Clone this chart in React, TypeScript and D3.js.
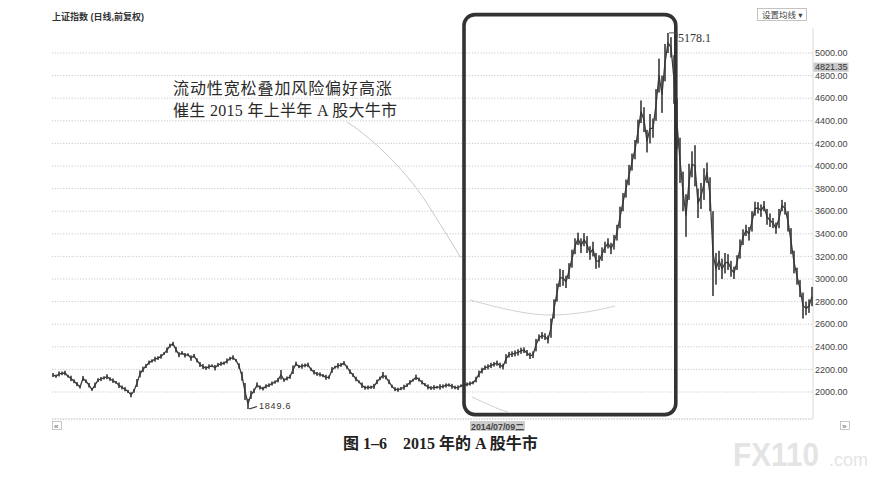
import React from 'react';
import * as d3 from 'd3';

// Daily-ish bars of the Shanghai Composite (2012-07 .. 2016-03)
const barLows = [
  2132, 2126, 2138, 2149, 2148, 2128, 2096, 2078, 2052, 2031,
  2098, 2079, 2040, 2010, 2036, 2088, 2097, 2111, 2113, 2099,
  2080, 2073, 2036, 2023, 2007, 1991, 1953, 1994, 2045, 2130,
  2176, 2213, 2242, 2261, 2268, 2284, 2295, 2328, 2346, 2393,
  2407, 2350, 2308, 2329, 2305, 2318, 2276, 2303, 2262, 2222,
  2203, 2196, 2205, 2220, 2191, 2223, 2232, 2241, 2253, 2279,
  2285, 2268, 2206, 2100, 1930, 1849.6, 1940, 1990, 2040, 2022,
  2014, 2032, 2044, 2057, 2074, 2085, 2110, 2090, 2103, 2117,
  2160, 2230, 2211, 2206, 2219, 2220, 2185, 2155, 2143, 2137,
  2131, 2108, 2114, 2170, 2208, 2208, 2223, 2237, 2206, 2160,
  2134, 2095, 2078, 2036, 2021, 2022, 2028, 2028, 2070, 2104,
  2120, 2112, 2070, 2036, 2008, 2002, 2016, 2020, 2044, 2065,
  2093, 2106, 2093, 2067, 2051, 2023, 2019, 2020, 2030, 2021,
  2033, 2040, 2048, 2028, 2024, 2018, 2043, 2038, 2051, 2057,
  2068, 2085, 2130, 2165, 2195, 2200, 2212, 2225, 2232, 2210,
  2200, 2250, 2305, 2310, 2315, 2322, 2338, 2345, 2318, 2292,
  2300, 2360, 2450, 2470, 2460, 2430, 2480, 2650, 2800, 2930,
  2940, 2920, 3000, 3100, 3220, 3300, 3230, 3290, 3230, 3170,
  3200, 3090, 3100, 3160, 3230, 3270, 3220, 3260, 3340, 3450,
  3600, 3720, 3830, 3960, 4060, 4200, 4380, 4300, 4120, 4200,
  4250, 4400, 4650, 4470, 4750, 5000, 4960, 4550, 4150, 3850,
  3600, 3373, 3700, 3900, 3820, 3540, 3620, 3700, 3850, 3600,
  2850, 2950, 3080, 3000, 3050, 3080, 3020, 3000, 3080, 3180,
  3300, 3380, 3340, 3420, 3560, 3580, 3550, 3600, 3480, 3460,
  3450, 3400, 3450, 3600, 3570, 3420, 3220, 3050, 2950, 2840,
  2650, 2680, 2700, 2760,
];

const barHighs = [
  2168, 2154, 2182, 2181, 2188, 2152, 2144, 2112, 2088, 2059,
  2142, 2111, 2080, 2034, 2084, 2122, 2133, 2139, 2157, 2131,
  2120, 2097, 2084, 2057, 2043, 2019, 1997, 2026, 2115, 2190,
  2224, 2247, 2278, 2289, 2312, 2316, 2335, 2352, 2394, 2427,
  2444, 2400, 2352, 2361, 2345, 2342, 2324, 2337, 2298, 2265,
  2247, 2228, 2245, 2244, 2239, 2257, 2268, 2269, 2297, 2311,
  2325, 2292, 2254, 2180, 2080, 1940, 2010, 2030, 2085, 2058,
  2046, 2068, 2076, 2093, 2102, 2125, 2195, 2120, 2137, 2153,
  2235, 2268, 2239, 2250, 2251, 2260, 2215, 2195, 2177, 2173,
  2159, 2152, 2146, 2220, 2232, 2256, 2257, 2273, 2234, 2200,
  2166, 2135, 2102, 2084, 2055, 2058, 2056, 2072, 2110, 2136,
  2177, 2148, 2110, 2064, 2042, 2038, 2044, 2064, 2076, 2105,
  2117, 2154, 2127, 2103, 2079, 2067, 2051, 2060, 2054, 2069,
  2067, 2076, 2076, 2072, 2056, 2058, 2067, 2086, 2085, 2093,
  2096, 2135, 2190, 2215, 2235, 2245, 2258, 2265, 2278, 2260,
  2250, 2335, 2355, 2360, 2368, 2378, 2392, 2395, 2372, 2348,
  2360, 2470, 2510, 2530, 2520, 2500, 2650, 2820, 2960, 3090,
  3080, 3030, 3140, 3260, 3360, 3410, 3360, 3406, 3380, 3290,
  3330, 3230, 3210, 3280, 3330, 3360, 3320, 3390, 3480, 3640,
  3760, 3880, 4010, 4110, 4230, 4410, 4580, 4520, 4320, 4460,
  4420, 4680, 4950, 4800, 5080, 5178.1, 5140, 4980, 4600, 4250,
  3950, 3750, 4020, 4130, 4184, 3800, 3850, 3980, 4030, 3900,
  3600, 3230, 3250, 3180, 3230, 3220, 3160, 3110, 3210, 3350,
  3440, 3480, 3460, 3600, 3684, 3680, 3660, 3690, 3620, 3580,
  3540, 3500, 3620, 3700, 3680, 3600, 3450, 3250, 3100, 2990,
  2880, 2800, 2820, 2930,
];

const yTicks = [2000, 2200, 2400, 2600, 2800, 3000, 3200, 3400, 3600, 3800, 4000, 4200, 4400, 4600, 4800, 5000];
const lastPrice = 4821.35;
const cursorIndex = 139;
const cursorDate = '2014/07/09二';
const boxStartIndex = 137;
const boxEndIndex = 207.6;
const boxTop = 5340;
const boxBottom = 1800;

const chartTitle = '上证指数 (日线,前复权)';
const maButton = '设置均线 ▾';
const noteLines = ['流动性宽松叠加风险偏好高涨', '催生 2015 年上半年 A 股大牛市'];
const caption = '图 1–6　2015 年的 A 股牛市';

const W = 881;
const H = 478;

export default function App() {
  const n = barLows.length;
  const x = d3.scaleLinear().domain([0, n - 1]).range([53, 812]);
  const y = d3.scaleLinear().domain([2000, 5000]).range([392, 53]);

  const peakIdx = d3.maxIndex(barHighs);
  const lowIdx = d3.minIndex(barLows);
  const peakVal = barHighs[peakIdx];
  const lowVal = barLows[lowIdx];

  const midLine = d3
    .line<number>()
    .x((_, i) => x(i))
    .y((lo, i) => y((lo + barHighs[i]) / 2))(barLows) || '';

  const sans = "'Liberation Sans', 'DejaVu Sans', 'Noto Sans CJK SC', sans-serif";
  const serif = "'Liberation Serif', 'Noto Sans CJK SC', serif";

  const gridLeft = 52;
  const gridRight = 812;

  return (
    <svg width={W} height={H} viewBox={`0 0 ${W} ${H}`} style={{ position: 'absolute', left: 0, top: 0, background: '#fff' }}>
      <rect x={0} y={0} width={W} height={H} fill="#fff" />

      {/* title */}
      <text x={52} y={20} fontFamily={sans} fontSize={9} fontWeight="bold" fill="#333">{chartTitle}</text>

      {/* MA button */}
      <rect x={757.5} y={8.5} width={49} height={12} fill="none" stroke="#b5b5b5" strokeWidth={0.8} />
      <text x={762} y={18} fontFamily={sans} fontSize={8.5} fill="#444">{maButton}</text>

      {/* gridlines */}
      {yTicks.map((t) => (
        <line key={t} x1={gridLeft} x2={gridRight} y1={y(t)} y2={y(t)} stroke="#bdbdbd" strokeWidth={0.8} strokeDasharray="1.2 1.6" />
      ))}
      <line x1={gridLeft} x2={gridRight} y1={419} y2={419} stroke="#b0b0b0" strokeWidth={0.9} strokeDasharray="1.5 1.2" />

      {/* right axis */}
      <line x1={813} x2={813} y1={28} y2={419} stroke="#cfcfcf" strokeWidth={0.8} />
      {yTicks.map((t) => (
        <text key={t} x={815} y={y(t) + 3.2} fontFamily={sans} fontSize={9} fill="#444">{t.toFixed(2)}</text>
      ))}
      <rect x={813.5} y={y(lastPrice) - 10.5} width={35} height={9} fill="#c9c9c9" />
      <text x={815} y={y(lastPrice) - 3} fontFamily={sans} fontSize={9} fill="#333">{lastPrice.toFixed(2)}</text>

      {/* faint scan artefacts */}
      <path d="M347,122 C375,140 410,175 430,208 C445,232 455,248 461,258" fill="none" stroke="#c8c8c8" strokeWidth={1} />
      <path d="M470,300 C500,308 530,316 555,315 C580,314 600,310 615,306" fill="none" stroke="#d2d2d2" strokeWidth={1} />
      <path d="M472,397 C485,403 497,409 508,412" fill="none" stroke="#d0d0d0" strokeWidth={1} />

      {/* price path + bars */}
      <path d={midLine} fill="none" stroke="#3a3a3a" strokeWidth={1.3} strokeLinejoin="round" />
      {barLows.map((lo, i) => {
        const hi = barHighs[i];
        const top = y(hi);
        const h = Math.max(1, y(lo) - top);
        return <rect key={i} x={x(i) - 0.8} y={top} width={1.6} height={h} fill="#383838" />;
      })}

      {/* highlight box */}
      <rect
        x={x(boxStartIndex)}
        y={y(boxTop)}
        width={x(boxEndIndex) - x(boxStartIndex)}
        height={y(boxBottom) - y(boxTop)}
        rx={11}
        ry={11}
        fill="none"
        stroke="#333"
        strokeWidth={3.6}
      />

      {/* peak label */}
      <path d={`M${x(peakIdx) + 1},${y(peakVal)} H${x(peakIdx) + 9} V${y(peakVal) + 5}`} fill="none" stroke="#444" strokeWidth={0.9} />
      <text x={x(peakIdx) + 10} y={y(peakVal) + 9} fontFamily={serif} fontSize={12} fill="#333">{peakVal.toFixed(1)}</text>

      {/* low label */}
      <path d={`M${x(lowIdx) + 1},${y(lowVal)} L${x(lowIdx) + 9},${y(lowVal) - 2.5}`} fill="none" stroke="#333" strokeWidth={1.1} />
      <text x={x(lowIdx) + 11} y={y(lowVal) + 0.5} fontFamily={sans} fontSize={9} letterSpacing={0.8} fill="#333">{lowVal.toFixed(1)}</text>

      {/* annotation */}
      <text x={173} y={94} fontFamily={serif} fontSize={16} letterSpacing={0.9} fill="#2a2a2a">{noteLines[0]}</text>
      <text x={173} y={116} fontFamily={serif} fontSize={16} letterSpacing={0.3} fill="#2a2a2a">{noteLines[1]}</text>

      {/* x axis controls */}
      <rect x={52.5} y={421.5} width={9} height={8} fill="none" stroke="#b0b0b0" strokeWidth={0.7} />
      <text x={54} y={428.5} fontFamily={sans} fontSize={8} fill="#555">«</text>
      <rect x={840.5} y={421.5} width={9} height={8} fill="none" stroke="#b0b0b0" strokeWidth={0.7} />
      <text x={842} y={428.5} fontFamily={sans} fontSize={8} fill="#555">»</text>
      <rect x={x(cursorIndex)} y={421} width={55} height={10} fill="#cdcdcd" />
      <text x={x(cursorIndex) + 1} y={429.5} fontFamily={sans} fontSize={8.5} fontWeight="bold" fill="#444" textLength={53} lengthAdjust="spacingAndGlyphs">{cursorDate}</text>

      {/* caption */}
      <text x={343} y={449} fontFamily={serif} fontSize={16} fontWeight="bold" fill="#222">{caption}</text>

      {/* watermark */}
      <text x={733} y={466} fontFamily={sans} fontSize={34} fontWeight="bold" fill="#e4e4e4" textLength={86} lengthAdjust="spacingAndGlyphs">FX110</text>
      <text x={829} y={466} fontFamily={sans} fontSize={18} fill="#e4e4e4">.com</text>
    </svg>
  );
}
